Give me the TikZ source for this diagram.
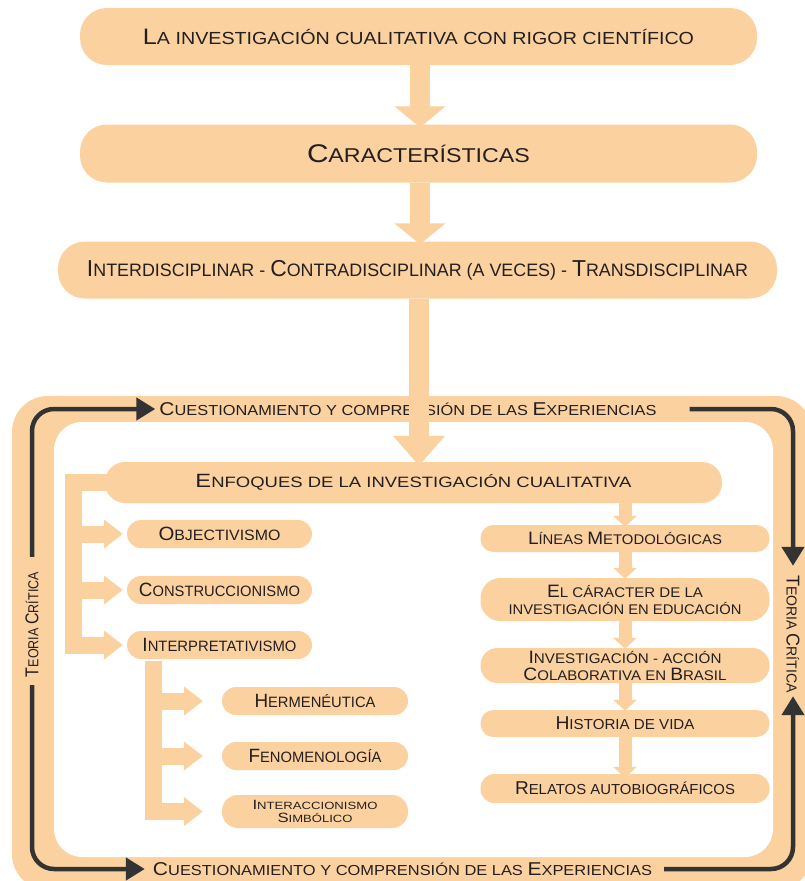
\documentclass[tikz,border=0pt]{standalone}
\usepackage{fontspec}
\setmainfont{Liberation Sans}
\usetikzlibrary{arrows.meta,calc}
\definecolor{orf}{HTML}{FBD1A0}
\definecolor{ink}{HTML}{231F20}
\definecolor{darkline}{HTML}{333333}
% fake small caps: capital letters set larger than the rest
\newcommand\K[1]{\scalebox{1.28}{#1}}
% text of a given width (horizontal scaling only) at a given size
\newcommand\fit[3]{{\fontsize{#2}{#2}\selectfont\resizebox{#1}{\height}{#3}}}
\tikzset{
  box/.style={fill=orf, text=ink, inner sep=0pt, align=center},
  bigarrow/.style={draw=orf, line width=20pt, -{Triangle[length=21pt,width=50pt]}},
  brk/.style={draw=orf, line width=17pt, line join=miter, -{Triangle[length=19pt,width=28pt]}},
  smallarrow/.style={draw=orf, line width=13pt, -{Triangle[length=11pt,width=23pt]}},
  darr/.style={draw=darkline, line width=4.5pt, rounded corners=22pt, -{Triangle[length=19pt,width=22pt]}},
  label/.style={text=ink, inner sep=0pt}
}
\begin{document}
\begin{tikzpicture}[x=1pt,y=-1pt]
\useasboundingbox (0,0) rectangle (805,881);
\fill[white] (0,0) rectangle (805,881);

% frame band around the lower part
\fill[orf, rounded corners=36pt] (12,396) rectangle (812,890);
\fill[white, rounded corners=28pt] (54,422) rectangle (773,857);

% upper chain
\node[box, minimum width=677pt, minimum height=57pt, rounded corners=27pt] (top) at (418.5,36.5)
  {\fit{551pt}{17.5pt}{\K{L}A INVESTIGACIÓN CUALITATIVA CON RIGOR CIENTÍFICO}};
\node[box, minimum width=677pt, minimum height=58pt, rounded corners=27pt] (car) at (418.5,153.5)
  {\fit{223pt}{20pt}{\K{C}ARACTERÍSTICAS}};
\node[box, minimum width=719pt, minimum height=57pt, rounded corners=27pt] (inter) at (417.5,270)
  {\fit{661pt}{18pt}{\K{I}NTERDISCIPLINAR - \K{C}ONTRADISCIPLINAR (A VECES) - \K{T}RANSDISCIPLINAR}};

\draw[bigarrow] (top.south -| 420,0) -- ([yshift=-3pt]car.north -| 420,0);
\draw[bigarrow] (car.south -| 420,0) -- ([yshift=-3pt]inter.north -| 420,0);

% labels on the frame band
\node[label] (qtop) at (408,409)
  {\fit{497pt}{14.5pt}{\K{C}UESTIONAMIENTO Y COMPRENSIÓN DE LAS \K{E}XPERIENCIAS}};
\node[label] (qbot) at (402.5,869)
  {\fit{499pt}{14.5pt}{\K{C}UESTIONAMIENTO Y COMPRENSIÓN DE LAS \K{E}XPERIENCIAS}};
\node[label, rotate=90] (tl) at (32,624.5)
  {\fit{105pt}{14.5pt}{\K{T}EORIA \K{C}RÍTICA}};
\node[label, rotate=-90] (tr) at (793,634)
  {\fit{118pt}{14.5pt}{\K{T}EORIA \K{C}RÍTICA}};

% enfoques
\node[box, minimum width=617pt, minimum height=41pt, rounded corners=20pt] (enf) at (413.5,482.5)
  {\fit{436pt}{15pt}{\K{E}NFOQUES DE LA INVESTIGACIÓN CUALITATIVA}};
\draw[bigarrow, -{Triangle[length=30pt,width=50pt]}] (inter.south -| 419,0) -- ([yshift=-4pt]enf.north -| 419,0);

% left column
\node[box, minimum width=185pt, minimum height=28pt, rounded corners=14pt] (obj) at (219.5,534)
  {\fit{122pt}{15pt}{\K{O}BJECTIVISMO}};
\node[box, minimum width=185pt, minimum height=28pt, rounded corners=14pt] (con) at (219.5,590)
  {\fit{161pt}{15pt}{\K{C}ONSTRUCCIONISMO}};
\node[box, minimum width=185pt, minimum height=28pt, rounded corners=14pt] (int) at (219.5,645)
  {\fit{154pt}{15pt}{\K{I}NTERPRETATIVISMO}};
\node[box, minimum width=186pt, minimum height=28pt, rounded corners=14pt] (her) at (315,701)
  {\fit{121pt}{15pt}{\K{H}ERMENÉUTICA}};
\node[box, minimum width=186pt, minimum height=28pt, rounded corners=14pt] (fen) at (315,756)
  {\fit{133pt}{15pt}{\K{F}ENOMENOLOGÍA}};
\node[box, minimum width=186pt, minimum height=33pt, rounded corners=16pt,
      font=\fontsize{10}{13}\selectfont] (sim) at (315,811.5)
  {\fit{125pt}{10.5pt}{\K{I}NTERACCIONISMO}\\\fit{75pt}{10.5pt}{\K{S}IMBÓLICO}};

\coordinate (bx) at (73,484);
\draw[brk] ([xshift=12pt]enf.west) -| (bx |- int.west) -- ([xshift=-4pt]int.west);
\draw[brk] (bx |- obj.west) -- ([xshift=-4pt]obj.west);
\draw[brk] (bx |- con.west) -- ([xshift=-4pt]con.west);

\coordinate (bx2) at (153.5,660);
\draw[brk] ([yshift=-2pt]bx2 |- int.south) -- (bx2 |- sim.west) -- ([xshift=-19pt]sim.west);
\draw[brk] (bx2 |- her.west) -- ([xshift=-19pt]her.west);
\draw[brk] (bx2 |- fen.west) -- ([xshift=-19pt]fen.west);

% right column
\node[box, minimum width=289pt, minimum height=27pt, rounded corners=13pt] (lin) at (625,538.5)
  {\fit{194pt}{14pt}{\K{L}ÍNEAS \K{M}ETODOLÓGICAS}};
\node[box, minimum width=289pt, minimum height=43pt, rounded corners=20pt,
      font=\fontsize{12}{17}\selectfont] (cara) at (625,599.5)
  {\fit{156pt}{14pt}{\K{E}L CÁRACTER DE LA}\\\fit{233pt}{14pt}{INVESTIGACIÓN EN EDUCACIÓN}};
\node[box, minimum width=289pt, minimum height=35pt, rounded corners=17pt,
      font=\fontsize{12}{17}\selectfont] (inv) at (625,665.5)
  {\fit{193pt}{14pt}{\K{I}NVESTIGACIÓN - ACCIÓN}\\\fit{203pt}{14pt}{\K{C}OLABORATIVA EN \K{B}RASIL}};
\node[box, minimum width=289pt, minimum height=27pt, rounded corners=13pt] (his) at (625,723.5)
  {\fit{139pt}{14.5pt}{\K{H}ISTORIA DE VIDA}};
\node[box, minimum width=289pt, minimum height=29pt, rounded corners=14pt] (rel) at (625,788.5)
  {\fit{220pt}{14.5pt}{\K{R}ELATOS AUTOBIOGRÁFICOS}};

\draw[smallarrow] (enf.south -| lin.north) -- ([yshift=-2pt]lin.north);
\draw[smallarrow] (lin.south) -- ([yshift=-1pt]cara.north);
\draw[smallarrow] (cara.south) -- ([yshift=-1pt]inv.north);
\draw[smallarrow] (inv.south) -- ([yshift=-1pt]his.north);
\draw[smallarrow] (his.south) -- ([yshift=-4pt]rel.north);

% dark cycle on the frame band
\draw[darr, shorten <=15pt, shorten >=4pt] (tl.east) |- (qtop.west);
\draw[darr, shorten <=33pt, shorten >=9pt] (qtop.east) -| (tr.west);
\draw[darr, shorten <=12pt, shorten >=3pt] (qbot.east) -| (tr.east);
\draw[darr, shorten <=8pt, shorten >=8pt] (tl.west) |- (qbot.west);
\end{tikzpicture}
\end{document}
